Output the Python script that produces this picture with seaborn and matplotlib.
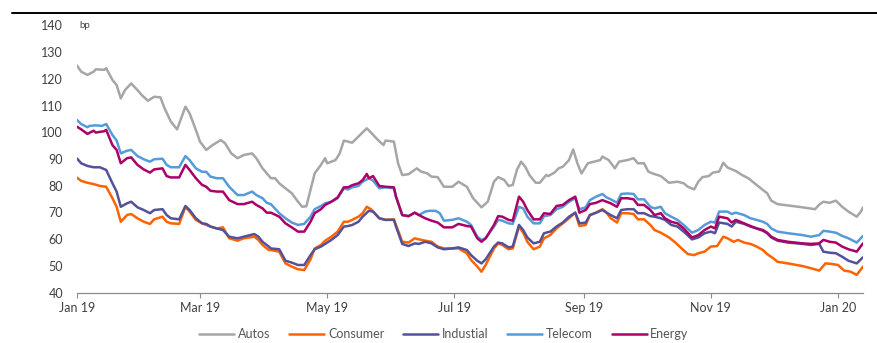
import matplotlib
matplotlib.use("Agg")
import matplotlib.pyplot as plt
import matplotlib.dates as mdates
from matplotlib.lines import Line2D
import pandas as pd
import seaborn as sns

# Credit spreads by sector (bp); day offsets counted from 1 Jan 2019
autos_day = [0, 2, 5, 8, 9, 13, 14, 17, 19, 21, 23, 26, 29, 31, 34, 37, 40, 42, 45, 48,
             52, 54, 57, 59, 62, 65, 69, 71, 74, 77, 80, 84, 86, 89,
             93, 95, 97, 100, 103, 106, 108, 110, 112, 114, 117, 119, 120, 124, 126, 128,
             132, 135, 139, 141, 144, 147, 148, 152, 154, 156, 159, 163, 165, 168, 170, 173,
             176, 180, 183,
             187, 190, 194, 197, 200, 202, 205, 207, 209, 211, 213, 215, 217, 220, 222, 225,
             226, 229, 231, 233, 236, 238, 240, 242, 245, 248, 251, 252, 255, 258, 260, 264,
             267, 269, 272, 274, 276,
             280, 284, 288, 291, 293, 296, 298, 300, 303, 305, 308, 310, 312, 316, 319, 322,
             325, 328, 331, 333, 336, 341, 348, 354, 356, 358, 361, 364, 367, 370, 374, 376, 377]
autos_bp = [125, 122.7, 121.5, 122.7, 123.6, 123.4, 124, 119.6, 117.7, 112.7, 115.8, 118.3,
            115.8, 114, 111.8, 113.3, 113.1, 109, 104, 101.1, 109.6, 107.1, 100.9, 96.5, 93.4,
            95.2, 97.1, 95.9, 92.1, 90.3, 91.5, 92.1, 90.3, 86.5,
            82.8, 82.8, 80.9, 79, 77.2, 74, 72.1, 72.3, 78.4, 84.6, 87.8, 90.3, 88.4, 89.6,
            92.1, 96.9, 96.1, 98.4, 101.5, 99.9, 97.4, 95.2, 96.9, 96.5, 88.4, 84, 84.3, 86.5,
            85.3, 84.6, 83.4, 83.2, 79.6, 79.6, 81.5,
            79.6, 75.3, 71.9, 74, 81.5, 83.2, 82.1, 79.9, 80.3, 85.9, 89, 87.1, 84, 81.1, 81.1,
            84, 83.6, 84.9, 86.5, 87.1, 89.6, 93.6, 88.4, 84.6, 88.4, 89, 89.6, 90.9, 89.6,
            86.5, 89, 89.6, 90.3, 88.4, 88.4, 85.3, 84.6,
            83.6, 81.1, 81.5, 80.9, 79.6, 78.6, 81.5, 83.2, 83.6, 84.9, 85.3, 88.6, 86.8, 85.5,
            84, 82.8, 80.9, 79, 77.2, 74.4, 73.1, 72.6, 71.9, 71.2, 72.9, 74, 73.6, 74.4, 72.1,
            70.3, 68.4, 70.3, 71.9]

telecom_day = [0, 2, 5, 6, 9, 12, 14, 17, 19, 21, 24, 26, 29, 32, 35, 37, 41, 43, 45, 49,
               52, 54, 57, 60, 62, 64, 67, 70, 73, 77, 80, 84, 86, 89, 91,
               93, 97, 100, 103, 106, 109, 112, 114, 117, 119, 122, 125, 128, 130, 132, 135,
               137, 140, 142, 145, 148, 152, 153, 156, 159, 162, 164, 167, 169, 172, 174, 176,
               180, 183,
               187, 189, 192, 194, 196, 200, 202, 204, 207, 209, 212, 214, 216, 219, 222, 224,
               227, 230, 233, 236, 239, 241, 244, 246, 249, 252, 254, 256, 259, 261, 264, 267,
               269, 272, 275,
               277, 280, 282, 285, 288, 291, 295, 298, 301, 304, 306, 308, 312, 314, 316, 320,
               323, 326, 329, 331, 333, 336, 341, 348, 352, 356, 358, 361, 364, 367, 370, 374, 377]
telecom_bp = [104.6, 103.1, 101.9, 102.4, 102.6, 102.4, 103.1, 99, 96.9, 92.1, 93.1, 93.4,
              91.1, 89.9, 89, 89.9, 90.1, 87.8, 86.9, 86.9, 91.1, 89.6, 86.5, 85.2, 85.2, 83.4,
              82.8, 82.8, 79.6, 76.5, 76.5, 77.8, 76.5, 75.3, 73.6,
              73.1, 69.7, 67.8, 66.2, 65.3, 65.7, 68.4, 71.2, 72.4, 73.4, 74, 75.3, 79, 78.6,
              79.4, 79.9, 81.5, 82.8, 81.9, 79, 79.4, 79, 75.9, 69, 68.6, 69.9, 69, 70.3, 70.6,
              70.6, 69.7, 66.9, 67.2, 67.8,
              66.5, 65.3, 60.9, 59.7, 60.3, 64.7, 67.2, 66.9, 65.9, 65.7, 72.1, 71.5, 68.4, 65.9,
              65.9, 68.6, 69, 71.2, 72.1, 74, 75.3, 71.2, 71.9, 74.6, 75.9, 76.9, 75.6, 74.9,
              73.6, 76.9, 77.1, 76.9, 74.9, 74.9, 72.1,
              71.5, 72.1, 69.7, 68.4, 67.2, 65.3, 62.4, 63.4, 65.3, 66.5, 66.2, 70.3, 70.3, 69.4,
              69.9, 69, 67.8, 67.2, 66.5, 65.7, 64, 62.8, 62.2, 61.5, 60.9, 61.5, 63.1, 62.8,
              62.4, 61.2, 60.3, 58.7, 61.2]

energy_day = [0, 2, 5, 8, 9, 13, 14, 17, 19, 21, 24, 26, 29, 32, 35, 37, 41, 43, 45, 49,
              52, 54, 57, 60, 62, 64, 67, 70, 73, 77, 80, 84, 86, 89, 91,
              93, 97, 100, 103, 106, 109, 112, 114, 117, 119, 122, 125, 128, 130, 132, 135,
              137, 139, 140, 142, 145, 148, 152, 153, 156, 159, 162, 164, 167, 170, 173, 176,
              180, 183,
              187, 189, 192, 194, 196, 200, 202, 204, 207, 209, 212, 214, 216, 219, 222, 224,
              227, 230, 233, 236, 239, 241, 244, 246, 249, 252, 254, 256, 259, 261, 264, 267,
              269, 272, 275,
              277, 280, 282, 285, 288, 291, 295, 298, 301, 304, 306, 308, 312, 314, 316, 320,
              323, 326, 329, 331, 333, 336, 341, 348, 352, 356, 358, 361, 364, 367, 370, 374, 377]
energy_bp = [102.1, 101.1, 99.4, 100.6, 99.9, 100.4, 100.9, 95.2, 93.4, 88.4, 90.3, 90.6,
             87.8, 86.1, 84.9, 86.1, 86.5, 83.6, 83.1, 83.1, 87.8, 85.9, 82.8, 80.3, 79.6, 78.1,
             77.8, 77.8, 74.6, 73.1, 73.1, 74, 72.8, 71.5, 69.9,
             69.9, 68.4, 65.9, 64.4, 62.8, 62.8, 66.5, 69.7, 71.2, 72.8, 74, 75.6, 79.4, 79.4,
             80.2, 80.9, 82.1, 84.4, 82.8, 83.6, 79.9, 79.6, 79.4, 75.9, 69, 68.6, 69.9, 69,
             67.8, 66.9, 66.2, 64.4, 64.4, 65.7,
             64.9, 64.7, 60.3, 59, 60.3, 65.3, 68.6, 68.4, 67.2, 66.9, 75.9, 74, 70.9, 67.4,
             67.4, 69.7, 69.4, 72.4, 72.8, 74.6, 75.9, 69.9, 70.9, 73.1, 73.6, 74.6, 74, 73.4,
             72.1, 75.3, 75.3, 74.9, 72.8, 72.8, 70.9,
             69, 69.7, 67.8, 66.5, 65.9, 64, 60.6, 61.5, 63.4, 64.7, 64, 68.4, 67.8, 66.2, 67.2,
             65.9, 64.9, 64, 63.4, 62.4, 60.9, 59.7, 59, 58.4, 58.2, 58.4, 59.7, 59, 58.7, 57.2,
             56.2, 55.3, 58.4]

industial_day = [0, 2, 5, 8, 11, 14, 17, 19, 21, 24, 26, 29, 32, 35, 37, 41, 43, 45, 49, 52,
                 54, 57, 60, 62, 64, 67, 70, 73, 77, 80, 85, 87, 89, 92,
                 93, 97, 100, 103, 106, 109, 112, 114, 117, 119, 122, 125, 128, 130, 132, 135,
                 137, 140, 142, 145, 148, 152, 153, 156, 159, 162, 164, 167, 170, 173, 176, 180,
                 183,
                 187, 189, 192, 194, 196, 200, 202, 204, 207, 209, 212, 214, 216, 219, 222, 224,
                 227, 230, 233, 236, 239, 241, 244, 246, 249, 252, 254, 256, 259, 261, 264, 267,
                 269, 272, 275,
                 277, 280, 282, 285, 288, 291, 295, 298, 301, 304, 306, 308, 312, 314, 316, 320,
                 323, 326, 329, 331, 333, 336, 341, 348, 352, 356, 358, 361, 364, 367, 370, 374,
                 377]
industial_bp = [90.2, 88.4, 87.4, 86.9, 86.9, 85.9, 80.9, 77.8, 72.1, 73.4, 74, 71.9, 70.9,
                69.7, 70.9, 71.2, 69, 67.8, 67.4, 72.4, 70.9, 67.8, 65.9, 65.7, 64.7, 64, 63.4,
                60.9, 60.3, 60.9, 61.9, 60.9, 59, 57.2,
                56.5, 56.2, 51.9, 51.2, 50.3, 50.3, 54, 56.2, 57.2, 58.2, 59.7, 61.5, 64.7, 64.9,
                65.3, 66.5, 68.4, 70.6, 70.3, 67.8, 67.2, 67.2, 64.7, 58.2, 57.4, 58.4, 58.2, 59,
                58.4, 56.9, 56.2, 56.5, 56.9,
                55.9, 54, 51.9, 50.9, 52.4, 57.2, 58.7, 58.4, 56.9, 57.2, 65.3, 63.4, 60.6, 58.4,
                59, 62.2, 62.8, 64.7, 66.2, 68.4, 69.9, 65.9, 66.2, 69, 69.9, 70.9, 69.9, 69,
                67.8, 70.9, 71.2, 71.2, 69.7, 69.7, 68.6,
                68.4, 67.8, 67.2, 65.3, 64.7, 62.8, 59.9, 60.6, 62.2, 62.8, 62.2, 66.2, 65.7,
                64.7, 66.5, 65.7, 64.7, 64, 63.1, 62.2, 60.6, 59.4, 58.7, 58.2, 57.8, 58.2, 55.3,
                54.9, 54.7, 53.4, 51.9, 50.9, 53.2]

consumer_day = [0, 2, 5, 8, 11, 14, 17, 19, 21, 24, 26, 29, 32, 35, 37, 41, 43, 45, 49, 52,
                54, 57, 60, 62, 64, 67, 70, 73, 77, 80, 85, 87, 89, 92,
                93, 97, 100, 103, 106, 109, 112, 114, 117, 119, 122, 125, 128, 130, 132, 135,
                137, 139, 141, 145, 148, 152, 153, 156, 159, 162, 164, 167, 170, 173, 176, 180,
                183,
                187, 189, 192, 194, 196, 200, 202, 204, 207, 209, 212, 214, 216, 219, 222, 224,
                227, 230, 233, 236, 239, 241, 244, 246, 249, 252, 254, 256, 259, 261, 264, 267,
                269, 272, 275,
                277, 280, 284, 287, 290, 293, 296, 298, 301, 304, 307, 310, 312, 315, 317, 320,
                323, 326, 329, 331, 334, 336, 341, 348, 352, 356, 359, 362, 365, 368, 371, 374,
                377]
consumer_bp = [83, 81.8, 81.1, 80.6, 79.9, 79.6, 75.3, 72.1, 66.5, 69, 69.4, 67.8, 66.5, 65.7,
               67.4, 68.4, 66.5, 65.9, 65.7, 72.1, 70.3, 67.2, 65.9, 65.3, 64.7, 64, 64.4, 60.3,
               59.4, 60.3, 60.9, 59.7, 57.8, 55.9,
               55.9, 55.3, 50.9, 49.7, 48.7, 48.4, 52.4, 56.5, 57.8, 59.4, 60.9, 62.8, 66.5,
               66.5, 67.2, 68.4, 69.7, 72.1, 71.2, 67.8, 67.2, 67.4, 65.3, 59, 58.7, 60.3, 59.9,
               59.4, 59, 57.2, 56.5, 56.5, 56.5,
               54.7, 52.2, 49.7, 47.8, 50.3, 56.5, 58.4, 57.8, 56.2, 56.5, 64.7, 62.4, 59, 56.2,
               57.2, 60.3, 61.5, 64, 65.9, 67.8, 69.9, 64.9, 65.3, 69, 69.9, 71.2, 69.9, 67.8,
               66.2, 69.7, 69.7, 69.4, 67.4, 67.4, 65.3,
               63.4, 62.4, 60.6, 58.7, 56.5, 54.4, 54, 54.7, 55.3, 57.2, 57.4, 60.9, 60.3, 59,
               59.7, 58.7, 58.2, 57.2, 55.9, 54.4, 52.8, 51.5, 50.9, 49.9, 49.1, 48.2, 50.9,
               50.7, 50.3, 48.2, 47.8, 46.6, 49.7]

sectors = ["Autos", "Consumer", "Industial", "Telecom", "Energy"]
colors = ["#A6A6A6", "#FF6200", "#525199", "#559BDB", "#AB0066"]
series = {
    "Autos": (autos_day, autos_bp),
    "Consumer": (consumer_day, consumer_bp),
    "Industial": (industial_day, industial_bp),
    "Telecom": (telecom_day, telecom_bp),
    "Energy": (energy_day, energy_bp),
}

start = pd.Timestamp("2019-01-01")
df = pd.concat(
    [pd.DataFrame({"date": start + pd.to_timedelta(d, unit="D"), "bp": v, "sector": name})
     for name, (d, v) in series.items()],
    ignore_index=True,
)

sns.set_theme(style="white")
plt.rcParams["font.family"] = ["Lato", "DejaVu Sans"]

W, H = 877, 343
fig = plt.figure(figsize=(W / 100, H / 100), dpi=100)
ax = fig.add_axes([77 / W, (H - 292.5) / H, 786 / W, 267 / H])

palette = dict(zip(sectors, colors))
sns.lineplot(data=df, x="date", y="bp", hue="sector", hue_order=sectors, palette=palette,
             estimator=None, linewidth=1.8, legend=False, ax=ax)

ax.set_ylim(40, 140)
ax.set_yticks(range(40, 141, 10))
ax.set_xlim(start, start + pd.Timedelta(days=377))
ax.xaxis.set_major_locator(mdates.MonthLocator(bymonth=[1, 3, 5, 7, 9, 11]))
ax.xaxis.set_major_formatter(mdates.DateFormatter("%b %y"))
ax.set_xlabel("")
ax.set_ylabel("")

for side in ("top", "right", "left"):
    ax.spines[side].set_visible(False)
ax.spines["bottom"].set_color("#8C8C8C")
ax.spines["bottom"].set_linewidth(0.9)
ax.tick_params(axis="y", length=0, pad=10, labelsize=9, labelcolor="#404040")
ax.tick_params(axis="x", bottom=True, length=3.5, width=0.8, color="#8C8C8C", pad=3,
               labelsize=9, labelcolor="#404040")
ax.grid(False)

ax.text(0.003, 140, "bp", transform=ax.get_yaxis_transform(), fontsize=7,
        color="#404040", va="center", ha="left")

# Top rule across the figure
fig.add_artist(Line2D([12 / W, 1.0], [1 - 13 / H, 1 - 13 / H], color="black", linewidth=1.4))

handles = [Line2D([], [], color=c, linewidth=1.8) for c in colors]
fig.legend(handles, sectors, loc="center", bbox_to_anchor=(444 / W, 1 - 334 / H), ncol=5,
           frameon=False, fontsize=9, handlelength=2.8, handletextpad=0.3,
           columnspacing=1.5, labelcolor="#555555")

fig.savefig("out.png", dpi=100)
